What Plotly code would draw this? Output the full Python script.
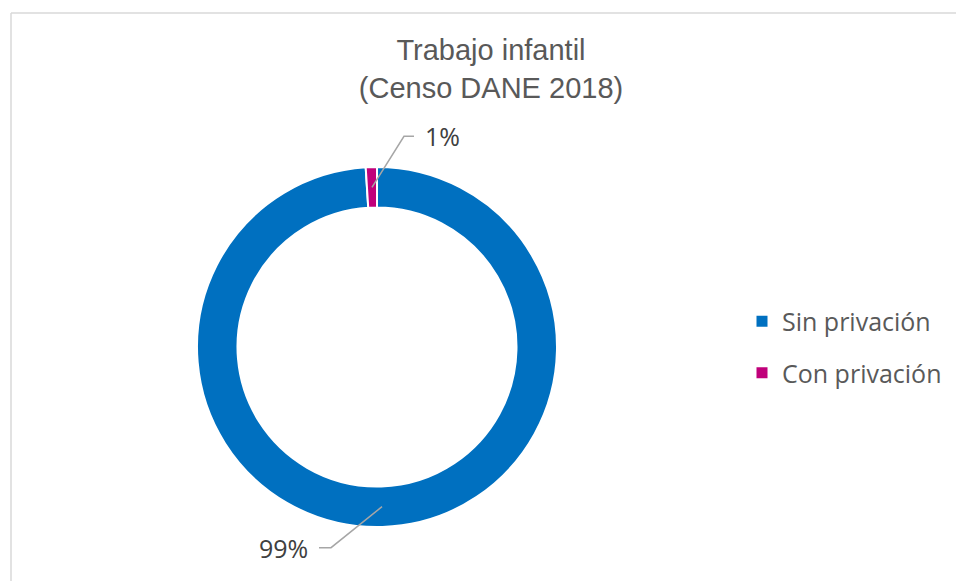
import math
import plotly.graph_objects as go

# Data
categories = ["Sin privación", "Con privación"]
values = [99, 1]
colors = ["#0070C0", "#C0007A"]

title_lines = ["Trabajo infantil", "(Censo DANE 2018)"]

# Canvas / layout geometry (pixels)
W, H = 956, 581
cx, cy, R = 377, 347, 180
hole = 0.775
r_mid = R * (1 + hole) / 2

# leader-line offsets per slice: (elbow dx, elbow dy, horizontal run)
leader_offsets = [(-51, 41, -12), (32, -51, 10)]


def px_x(x):
    return x / W


def px_y(y):
    return 1 - y / H


fig = go.Figure()
fig.add_trace(go.Pie(
    labels=categories,
    values=values,
    marker=dict(colors=colors, line=dict(color="white", width=2)),
    hole=hole,
    sort=False,
    direction="clockwise",
    rotation=0,
    textinfo="none",
    showlegend=False,
    domain=dict(x=[px_x(cx - R), px_x(cx + R)], y=[px_y(cy + R), px_y(cy - R)]),
))

# legend entries (one group per category so the entries can be spaced apart)
for cat, col in zip(categories, colors):
    fig.add_trace(go.Scatter(
        x=[None], y=[None], mode="markers", name=cat, legendgroup=cat,
        marker=dict(symbol="square", size=11, color=col),
        hoverinfo="skip", showlegend=True,
    ))

shapes = []
annotations = []

# outer frame (top and left edges)
frame = "#D9D9D9"
shapes.append(dict(type="line", xref="paper", yref="paper",
                   x0=px_x(11), x1=px_x(W + 5), y0=px_y(13), y1=px_y(13),
                   line=dict(color=frame, width=1.5)))
shapes.append(dict(type="line", xref="paper", yref="paper",
                   x0=px_x(11), x1=px_x(11), y0=px_y(13), y1=px_y(H + 5),
                   line=dict(color=frame, width=1.5)))

# data labels with leader lines
total = sum(values)
cum = 0.0
for v, (edx, edy, run) in zip(values, leader_offsets):
    frac = v / total
    theta = math.radians((cum + frac / 2) * 360)
    cum += frac
    ax = cx + r_mid * math.sin(theta)
    ay = cy - r_mid * math.cos(theta)
    ex, ey = ax + edx, ay + edy
    tx = ex + run
    shapes.append(dict(
        type="path", xref="paper", yref="paper",
        path=f"M {px_x(ax)},{px_y(ay)} L {px_x(ex)},{px_y(ey)} L {px_x(tx)},{px_y(ey)}",
        line=dict(color="#A6A6A6", width=1.5),
    ))
    gap = 9 if run > 0 else -9
    annotations.append(dict(
        xref="paper", yref="paper", x=px_x(tx + gap), y=px_y(ey),
        text=f"{round(100 * frac)}%", showarrow=False,
        xanchor="left" if run > 0 else "right", yanchor="middle",
        font=dict(family="Open Sans", size=25, color="#404040"),
    ))

fig.update_layout(
    width=W, height=H,
    margin=dict(l=0, r=0, t=0, b=0),
    paper_bgcolor="white",
    plot_bgcolor="white",
    xaxis=dict(visible=False),
    yaxis=dict(visible=False),
    title=dict(
        text="<br>".join(title_lines),
        x=px_x(491), xanchor="center",
        y=px_y(60), yanchor="middle", yref="container",
        font=dict(family="Liberation Sans", size=29, color="#595959"),
    ),
    legend=dict(
        x=px_x(742), y=px_y(347), xanchor="left", yanchor="middle",
        font=dict(family="Open Sans", size=25, color="#595959"),
        bgcolor="rgba(0,0,0,0)",
        tracegroupgap=16,
    ),
    shapes=shapes,
    annotations=annotations,
)

fig.write_html("out.html")
